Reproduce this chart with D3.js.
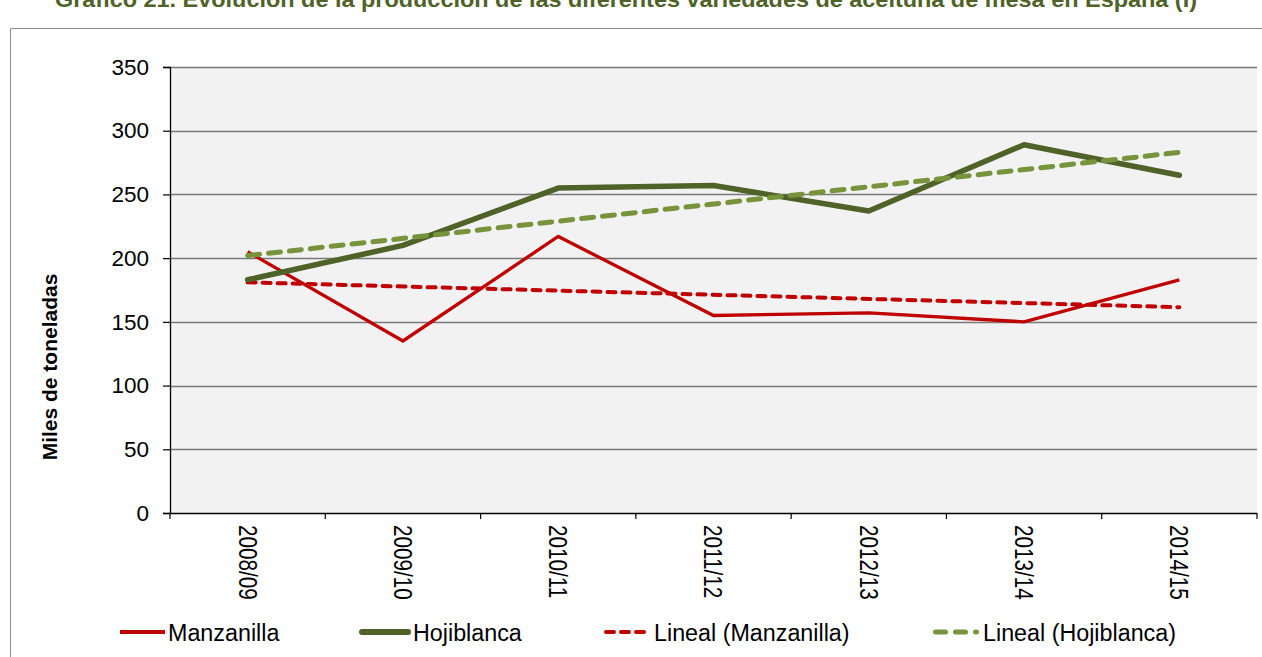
<!DOCTYPE html>
<html><head><meta charset="utf-8">
<script src="https://cdn.jsdelivr.net/npm/d3@7"></script>
<style>body{margin:0;background:#fff}svg{display:block;font-family:"Liberation Sans",Arial,sans-serif}</style>
</head><body>
<svg id="c" width="1262" height="657"></svg>
<script>
const categories = ["2008/09","2009/10","2010/11","2011/12","2012/13","2013/14","2014/15"];
const manzanilla = [205, 135, 217, 155, 157, 150, 183];
const hojiblanca = [183, 210, 255, 257, 237, 289, 265];
const trendManzanilla = [181, 161.5]; // first and last category
const trendHojiblanca = [202, 283];
const yTicks = [0,50,100,150,200,250,300,350];
const title = "Gráfico 21. Evolución de la producción de las diferentes variedades de aceituna de mesa en España (I)";
const yTitle = "Miles de toneladas";
const legendItems = ["Manzanilla","Hojiblanca","Lineal (Manzanilla)","Lineal (Hojiblanca)"];

const svg = d3.select("#c");
const L=170, R=1257, T=67, B=513;
const x = d3.scaleBand().domain(categories).range([L,R]).padding(0);
const y = d3.scaleLinear().domain([0,350]).range([B,T]);
const cx = d => x(d)+x.bandwidth()/2;

// outer frame (top and left edges visible)
svg.append("path").attr("d","M10.5,657 V28.5 H1262").attr("fill","none")
  .attr("stroke","#8c8c8c").attr("stroke-width",1);

// title
svg.append("text").attr("x",626).attr("y",7).attr("text-anchor","middle")
  .attr("font-size",22).attr("font-weight","bold").attr("fill","#4F6228")
  .attr("textLength",1142).attr("lengthAdjust","spacingAndGlyphs").text(title);

// plot area
svg.append("rect").attr("x",L).attr("y",T).attr("width",R-L).attr("height",B-T).attr("fill","#F2F2F2");

// gridlines
svg.append("g").selectAll("line").data(yTicks.filter(d=>d>0)).join("line")
  .attr("x1",L).attr("x2",R).attr("y1",d=>Math.round(y(d))+0.5).attr("y2",d=>Math.round(y(d))+0.5)
  .attr("stroke","#7a7a7a").attr("stroke-width",1.3);

// y axis
const ya = svg.append("g").attr("transform",`translate(${L},0)`)
  .call(d3.axisLeft(y).tickValues(yTicks).tickSize(7).tickPadding(14));
ya.select(".domain").attr("stroke","#000").attr("stroke-width",1.3);
ya.selectAll(".tick line").attr("stroke","#000").attr("stroke-width",1.2);
ya.selectAll(".tick text").attr("font-size",22.5).attr("font-family","Liberation Sans, Arial, sans-serif").attr("fill","#000");

// x axis
svg.append("line").attr("x1",L).attr("x2",R).attr("y1",B+0.5).attr("y2",B+0.5).attr("stroke","#000").attr("stroke-width",1.3);
const bounds = categories.map(c=>x(c)).concat([R]);
svg.append("g").selectAll("line").data(bounds).join("line")
  .attr("x1",d=>d).attr("x2",d=>d).attr("y1",B).attr("y2",B+6).attr("stroke","#000").attr("stroke-width",1.2);
svg.append("g").selectAll("text").data(categories).join("text")
  .attr("transform",d=>`translate(${cx(d)},525) scale(1.25,1) rotate(90)`)
  .attr("dy","0.35em").attr("font-size",20.7).attr("fill","#000").text(d=>d);

// y title
svg.append("text").attr("transform","translate(50,367) rotate(-90)").attr("text-anchor","middle")
  .attr("dy","0.35em").attr("font-size",21).attr("font-weight","bold").attr("fill","#000").text(yTitle);

// series
const line = d3.line().x((d,i)=>cx(categories[i])).y(d=>y(d));
const first = categories[0], last = categories[categories.length-1];
const tline = d3.line().x((d,i)=>cx(i===0?first:last)).y(d=>y(d));

svg.append("path").attr("d",tline(trendManzanilla)).attr("fill","none").attr("stroke","#C00000")
  .attr("stroke-width",4).attr("stroke-dasharray","8,7").attr("stroke-linecap","round");
svg.append("path").attr("d",line(manzanilla)).attr("fill","none").attr("stroke","#C00000")
  .attr("stroke-width",3.3).attr("stroke-linejoin","miter");
svg.append("path").attr("d",line(hojiblanca)).attr("fill","none").attr("stroke","#4F6228")
  .attr("stroke-width",5.5).attr("stroke-linejoin","round").attr("stroke-linecap","round");
svg.append("path").attr("d",tline(trendHojiblanca)).attr("fill","none").attr("stroke","#77933C")
  .attr("stroke-width",5).attr("stroke-dasharray","12,9").attr("stroke-linecap","round");

// legend
const leg = [
  {x1:120,x2:165,tx:168,color:"#C00000",w:4,dash:null,cap:"butt"},
  {x1:362,x2:408,tx:413,color:"#4F6228",w:6,dash:null,cap:"round"},
  {x1:606,x2:649,tx:654,color:"#C00000",w:4,dash:"8,7",cap:"round"},
  {x1:935.5,x2:977.5,tx:983,color:"#77933C",w:5,dash:"10,10,10,10,1",cap:"round"}
];
const lg = svg.append("g");
leg.forEach((o,i)=>{
  const l = lg.append("line").attr("x1",o.x1).attr("x2",o.x2).attr("y1",632).attr("y2",632)
    .attr("stroke",o.color).attr("stroke-width",o.w).attr("stroke-linecap",o.cap);
  if(o.dash) l.attr("stroke-dasharray",o.dash);
  lg.append("text").attr("x",o.tx).attr("y",641).attr("font-size",23.3).attr("fill","#000").text(legendItems[i]);
});
</script>
</body></html>
